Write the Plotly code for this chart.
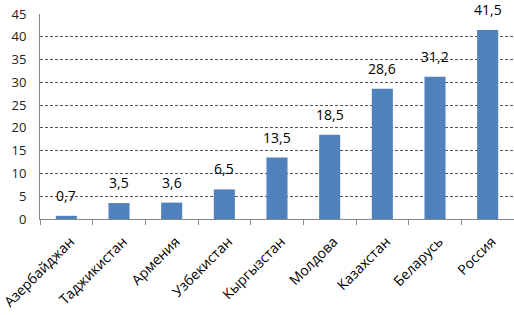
import plotly.graph_objects as go

countries = ["Азербайджан", "Таджикистан", "Армения", "Узбекистан", "Кыргызстан",
             "Молдова", "Казахстан", "Беларусь", "Россия"]
values = [0.7, 3.5, 3.6, 6.5, 13.5, 18.5, 28.6, 31.2, 41.5]
y_ticks = [0, 5, 10, 15, 20, 25, 30, 35, 40, 45]

labels = [f"{v:.1f}".replace(".", ",") for v in values]

fig = go.Figure(go.Bar(
    x=countries, y=values,
    marker=dict(color="#4F81BD", line=dict(width=0)),
    hoverinfo="skip",
))

for c, v, t in zip(countries, values, labels):
    fig.add_annotation(
        x=c, y=v, text=t, showarrow=False, yanchor="bottom", yshift=9,
        font=dict(family="Open Sans", size=14, color="#000000"),
    )

fig.update_layout(
    width=514, height=315,
    margin=dict(l=40, r=0, t=14, b=96),
    paper_bgcolor="white", plot_bgcolor="white",
    bargap=0.6, showlegend=False,
    font=dict(family="Open Sans", color="#000000"),
)
fig.update_xaxes(
    tickangle=-45, tickfont=dict(size=14), automargin=False,
    showline=True, linecolor="#888888", linewidth=1,
    ticks="outside", ticklen=5, tickcolor="#888888", tickson="boundaries",
    showgrid=False, ticklabeloverflow="allow",
    ticklabelstandoff=8, ticklabelshift=4,
)
fig.update_yaxes(
    range=[0, 45], tickvals=y_ticks, tickfont=dict(size=13, color="#222222"),
    automargin=False, ticklabeloverflow="allow",
    showline=True, linecolor="#888888", linewidth=1,
    showgrid=True, gridcolor="#555555", griddash="3px,2px", gridwidth=1,
    zeroline=False, ticks="", ticklabelstandoff=10,
)

fig.write_html("out.html", config={"displayModeBar": False},
               post_script="document.body.style.margin='0';")
